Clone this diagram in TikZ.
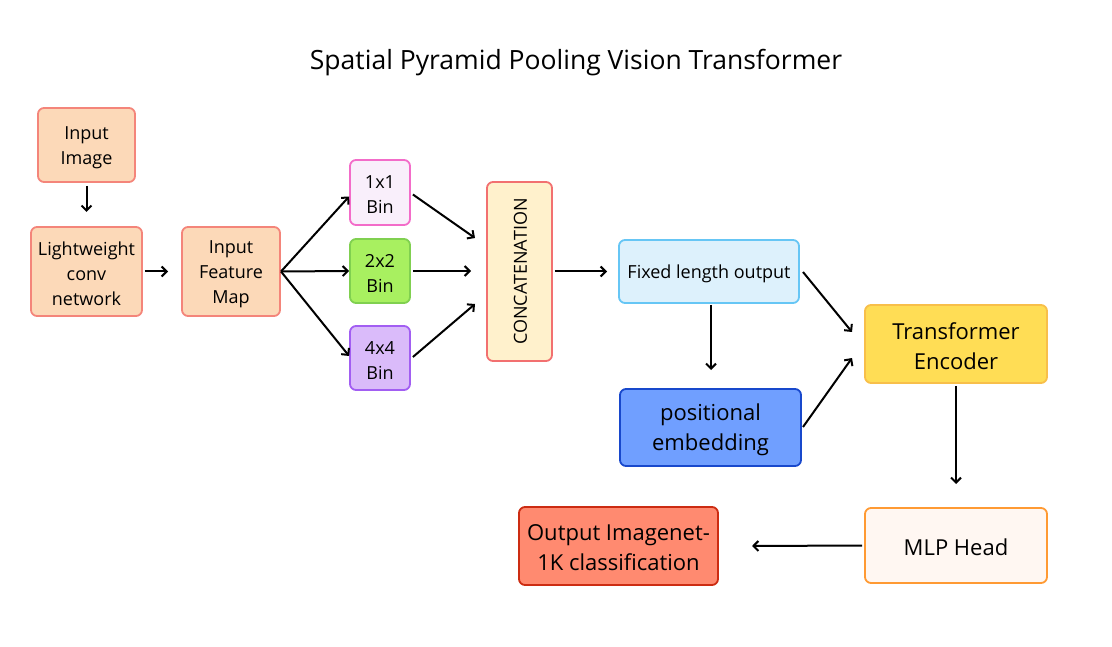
\documentclass[tikz,border=0pt]{standalone}
\usepackage{fontspec}
\setmainfont{Open Sans}
\usetikzlibrary{arrows.meta}
\definecolor{peachF}{HTML}{FCD9B8}
\definecolor{peachD}{HTML}{F4857A}
\definecolor{pinkF}{HTML}{F9EFFB}
\definecolor{pinkD}{HTML}{F36CC9}
\definecolor{greenF}{HTML}{A8F060}
\definecolor{greenD}{HTML}{80D050}
\definecolor{purpF}{HTML}{DABBFA}
\definecolor{purpD}{HTML}{A25EF2}
\definecolor{concF}{HTML}{FFF1CC}
\definecolor{concD}{HTML}{F27070}
\definecolor{fixF}{HTML}{DDF1FC}
\definecolor{fixD}{HTML}{66C6F5}
\definecolor{posF}{HTML}{709FFF}
\definecolor{posD}{HTML}{1848CC}
\definecolor{trF}{HTML}{FFDD55}
\definecolor{trD}{HTML}{F8BF4A}
\definecolor{mlpF}{HTML}{FFF7F2}
\definecolor{mlpD}{HTML}{FF9A33}
\definecolor{outF}{HTML}{FF8A70}
\definecolor{outD}{HTML}{CC2C12}
\tikzset{
  box/.style={draw, line width=1.8pt, rounded corners=6pt, inner sep=0pt},
  txt/.style={inner sep=0pt, align=center, text=black},
  sm/.style={txt, font=\fontsize{18}{25}\selectfont},
  md/.style={txt, font=\fontsize{18}{24}\selectfont},
  lg/.style={txt, font=\fontsize{22}{30}\selectfont},
  arr/.style={line width=2pt, -{Straight Barb[length=5pt,width=10pt,line width=2pt]}},
}
\begin{document}
\begin{tikzpicture}[x=1pt,y=-1pt]
\useasboundingbox (0,0) rectangle (1112,647);
\node[txt,font=\fontsize{26.5}{32}\selectfont] (title) at (576,63) {Spatial Pyramid Pooling Vision Transformer};

\node[box,fill=peachF,draw=peachD,minimum width=97pt,minimum height=74pt] (img) at (86.5,145) {};
\node[sm] (imgT) at ([yshift=-2.5pt]img.center) {Input\\Image};
\node[box,fill=peachF,draw=peachD,minimum width=111pt,minimum height=89pt] (lcn) at (86.5,271.5) {};
\node[sm] (lcnT) at ([yshift=-2.5pt]lcn.center) {Lightweight\\conv\\network};
\node[box,fill=peachF,draw=peachD,minimum width=98pt,minimum height=89pt] (ifm) at (231,271.5) {};
\node[sm] (ifmT) at ([yshift=-2.5pt]ifm.center) {Input\\Feature\\Map};

\node[box,fill=pinkF,draw=pinkD,minimum width=60pt,minimum height=65pt] (b1) at (380,192.5) {};
\node[sm] (b1T) at ([yshift=-2.5pt]b1.center) {1x1\\Bin};
\node[box,fill=greenF,draw=greenD,minimum width=60pt,minimum height=64pt] (b2) at (380,271) {};
\node[sm] (b2T) at ([yshift=-2.5pt]b2.center) {2x2\\Bin};
\node[box,fill=purpF,draw=purpD,minimum width=60pt,minimum height=64pt] (b4) at (380,358) {};
\node[sm] (b4T) at ([yshift=-2.5pt]b4.center) {4x4\\Bin};

\node[box,fill=concF,draw=concD,minimum width=65pt,minimum height=179pt] (conc) at (519.5,271.5) {};
\node[md,rotate=90] (concT) at ([xshift=1pt]conc.center) {CONCATENATION};

\node[box,fill=fixF,draw=fixD,minimum width=180pt,minimum height=63pt] (fix) at (709,271.5) {};
\node[md] (fixT) at ([yshift=-2pt]fix.center) {Fixed length output};
\node[box,fill=posF,draw=posD,minimum width=181pt,minimum height=77pt] (pos) at (710.5,427.5) {};
\node[lg] (posT) at ([yshift=-2.5pt]pos.center) {positional\\embedding};
\node[box,fill=trF,draw=trD,minimum width=182pt,minimum height=78pt] (tr) at (956,344) {};
\node[lg] (trT) at ([yshift=-2pt]tr.center) {Transformer\\Encoder};
\node[box,fill=mlpF,draw=mlpD,minimum width=182pt,minimum height=75pt] (mlp) at (956,545.5) {};
\node[lg] (mlpT) at ([yshift=-1.5pt]mlp.center) {MLP Head};
\node[box,fill=outF,draw=outD,minimum width=199pt,minimum height=78pt] (out) at (618.5,546) {};
\node[lg] (outT) at ([yshift=-1.5pt]out.center) {Output Imagenet-\\1K classification};

\coordinate (ifmR) at (281,271.5);
\draw[arr] ([yshift=-3pt]img.south) -- (86.5,212) coordinate (lcnTop);
\draw[arr] ([xshift=2pt]lcn.east) -- (168,271.5) coordinate (ifmL);
\draw[arr] (ifmR) -- ([yshift=-4pt]b1.west);
\draw[arr] (ifmR) -- (b2.west);
\draw[arr] (ifmR) -- ([yshift=2pt]b4.west);
\draw[arr] ([shift={(2pt,-2pt)}]b1.east) -- (475,238) coordinate (c1);
\draw[arr] ([xshift=2pt]b2.east) -- (471,271) coordinate (c2);
\draw[arr] ([shift={(2pt,1pt)}]b4.east) -- (475,304) coordinate (c3);
\draw[arr] ([xshift=2pt]conc.east) -- (607,271.5) coordinate (c4);
\draw[arr] (803,272) coordinate (f1) -- (852,332) coordinate (t1);
\draw[arr] (711,305) coordinate (f2) -- (711,370) coordinate (p1);
\draw[arr] (803,427) coordinate (p2) -- (852,358) coordinate (t2);
\draw[arr] ([yshift=-2pt]tr.south) -- (956,484) coordinate (m1);
\draw[arr] ([xshift=-2pt]mlp.west) -- (752,546) coordinate (o1);
\end{tikzpicture}
\end{document}
